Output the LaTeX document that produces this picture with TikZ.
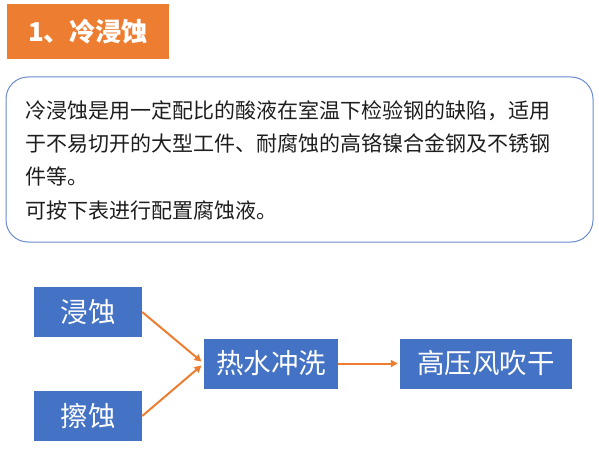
\documentclass[tikz,border=0pt]{standalone}
\usepackage{fontspec}
\newfontfamily\cjk{Noto Sans CJK SC}
\usetikzlibrary{arrows.meta}
\definecolor{orng}{HTML}{ED7D31}
\definecolor{blu}{HTML}{4472C4}
\definecolor{bord}{HTML}{6A8CCF}
\definecolor{txt}{HTML}{1E1E1E}
\tikzset{
  bluebox/.style={rectangle, fill=blu, inner sep=0pt, minimum height=50pt, text=white, font=\cjk\fontsize{27.5}{30}\selectfont},
  bodyline/.style={anchor=base west, inner sep=0pt, text=txt, font=\cjk\fontsize{21}{25}\selectfont},
  flow/.style={draw=orng, line width=2pt, -{Triangle[length=7pt,width=7pt]}, shorten >=3pt}
}
\begin{document}
\begin{tikzpicture}[x=1pt,y=-1pt]
\useasboundingbox (0,0) rectangle (599,449);
% title
\node[rectangle, fill=orng, minimum width=162pt, minimum height=55pt, inner sep=0pt,
      text=white, font=\cjk\bfseries\fontsize{26}{30}\selectfont] (title) at (88,31.5) {1、冷浸蚀};
% description box
\node[rectangle, draw=bord, line width=1pt, rounded corners=22pt, minimum width=587pt, minimum height=165pt, inner sep=0pt] (desc) at (299.5,159.5) {};
\node[bodyline] (l1) at (25,119) {冷浸蚀是用一定配比的酸液在室温下检验钢的缺陷，适用};
\node[bodyline] (l2) at (25,152) {于不易切开的大型工件、耐腐蚀的高铬镍合金钢及不锈钢};
\node[bodyline] (l3) at (25,185) {件等。};
\node[bodyline] (l4) at (25,218) {可按下表进行配置腐蚀液。};
% flow
\node[bluebox, minimum width=108pt] (a) at (88,312) {浸蚀};
\node[bluebox, minimum width=108pt] (b) at (88,416) {擦蚀};
\node[bluebox, minimum width=134pt] (c) at (271,363.5) {热水冲洗};
\node[bluebox, minimum width=172pt] (d) at (486,363.5) {高压风吹干};
\draw[flow] (a.east) -- (c.west);
\draw[flow] (b.east) -- (c.west);
\draw[flow, shorten >=2pt] (c.east) -- (d.west);
\end{tikzpicture}
\end{document}
